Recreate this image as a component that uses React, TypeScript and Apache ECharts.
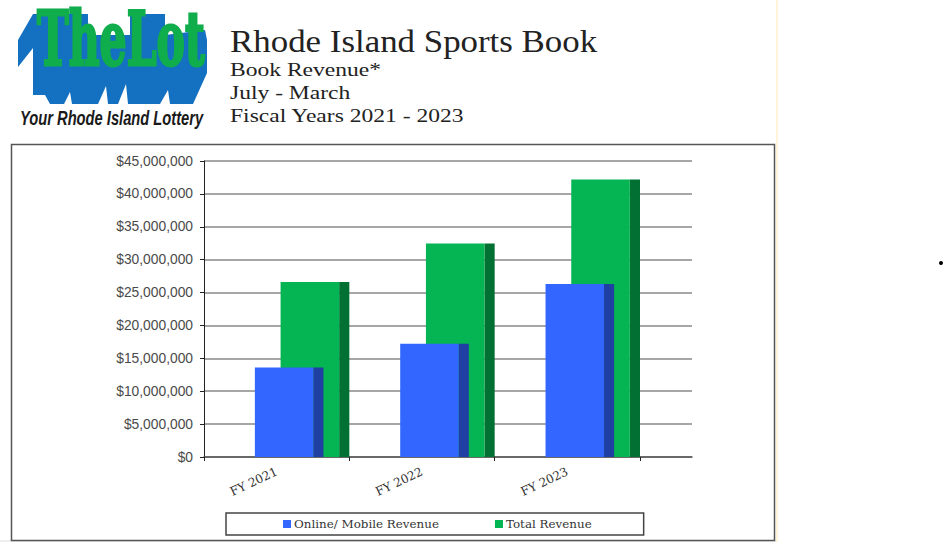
import React, { useEffect, useRef } from "react";
import * as echarts from "echarts";

const categories = ["FY 2021", "FY 2022", "FY 2023"];
const onlineRevenue = [13600000, 17200000, 26300000];
const totalRevenue = [26600000, 32450000, 42200000];
const seriesNames = ["Online/ Mobile Revenue", "Total Revenue"];
const titleLine = "Rhode Island Sports Book";
const subLines = ["Book Revenue*", "July - March", "Fiscal Years 2021 - 2023"];
const logoWord = "TheLot";
const logoTagline = "Your Rhode Island Lottery";

const shadowPoints = [
  [18, 40], [33, 14], [88, 14], [88, 35], [130, 35], [130, 14], [165, 14], [165, 35], [205, 30], [207, 40], [207, 73], [193, 104], [170, 104], [168, 90], [160, 104],
  [128, 104], [126, 84], [118, 104], [108, 104], [106, 86], [98, 104], [72, 104], [70, 92], [64, 104], [50, 104], [45, 95],
  [33, 95], [33, 48], [18, 67],
];

const barRenderer = (startFrac: number, frontFrac: number, endFrac: number, front: string, side: string) =>
  (params: any, api: any) => {
    const top = api.coord([api.value(0), api.value(1)]);
    const base = api.coord([api.value(0), 0]);
    const band = api.size([1, 0])[0];
    const left = top[0] - band / 2;
    const x0 = left + startFrac * band;
    const x1 = left + frontFrac * band;
    const x2 = left + endFrac * band;
    return {
      type: "group",
      children: [
        { type: "rect", shape: { x: x1, y: top[1], width: x2 - x1, height: base[1] - top[1] }, style: { fill: side } },
        { type: "rect", shape: { x: x0, y: top[1], width: x1 - x0, height: base[1] - top[1] }, style: { fill: front } },
      ],
    };
  };

export default function App() {
  const ref = useRef<HTMLDivElement>(null);
  useEffect(() => {
    const chart = echarts.init(ref.current!, null, { renderer: "svg" });
    const serif = "'Liberation Serif'";
    const head = (text: string, y: number, size: number, sx: number) => ({
      type: "text", x: 230, y, scaleX: sx,
      style: { text, fontFamily: serif, fontSize: size, fill: "#222", textVerticalAlign: "middle" },
    });
    chart.setOption({
      animation: false,
      backgroundColor: "#ffffff",
      grid: [
        { left: 204, top: 161, width: 436, height: 296 },
        { left: 204, top: 161, width: 488, height: 296 },
      ],
      xAxis: [
        {
          type: "category", gridIndex: 0, data: categories,
          axisLine: { show: false },
          axisTick: { show: true, length: 4, alignWithLabel: false, lineStyle: { color: "#222" } },
          axisLabel: { rotate: 25, margin: 14, fontFamily: "'DejaVu Serif'", fontSize: 12, color: "#333" },
        },
        {
          type: "category", gridIndex: 1, data: categories,
          axisLine: { show: true, lineStyle: { color: "#555", width: 1.5 } },
          axisTick: { show: false }, axisLabel: { show: false },
        },
      ],
      yAxis: [
        { type: "value", gridIndex: 0, min: 0, max: 45000000, interval: 5000000, show: false, splitLine: { show: false } },
        {
          type: "value", gridIndex: 1, min: 0, max: 45000000, interval: 5000000,
          axisLine: { show: true, lineStyle: { color: "#222" } },
          axisTick: { show: true, length: 4, lineStyle: { color: "#222" } },
          splitLine: { show: true, lineStyle: { color: "#888", width: 1.5 } },
          axisLabel: {
            margin: 11, fontFamily: "'Liberation Sans'", fontSize: 13.8, color: "#4a4a4a",
            formatter: (v: number) => "$" + v.toLocaleString("en-US"),
          },
        },
      ],
      legend: {
        left: 226, top: 513,
        padding: [5, 52, 5, 57],
        borderColor: "#444", borderWidth: 1.5,
        icon: "rect", itemWidth: 8, itemHeight: 8, itemGap: 56,
        textStyle: { fontFamily: "'DejaVu Serif'", fontSize: 11.9, color: "#333", padding: [0, 0, 0, -2] },
        data: seriesNames,
      },
      series: [
        {
          type: "custom", name: seriesNames[1], xAxisIndex: 0, yAxisIndex: 0, z: 3,
          itemStyle: { color: "#05b452" }, encode: { x: 0, y: 1 },
          data: totalRevenue.map((v, i) => [i, v]),
          renderItem: barRenderer(0.527, 0.93, 1, "#05b452", "#027032"),
        },
        {
          type: "custom", name: seriesNames[0], xAxisIndex: 0, yAxisIndex: 0, z: 4,
          itemStyle: { color: "#3366ff" }, encode: { x: 0, y: 1 },
          data: onlineRevenue.map((v, i) => [i, v]),
          renderItem: barRenderer(0.35, 0.752, 0.822, "#3366ff", "#1f3fa3"),
        },
      ],
      graphic: [
        { type: "rect", shape: { x: 0, y: 540, width: 776, height: 2 }, style: { fill: "#eeeeee" }, z: -2 },
        { type: "rect", shape: { x: 776, y: 0, width: 2, height: 542 }, style: { fill: "#fff3d8" }, z: -2 },
        { type: "rect", shape: { x: 11.5, y: 144.5, width: 763, height: 396 }, style: { fill: "none", stroke: "#555", lineWidth: 1.5 }, z: -1 },
        { type: "circle", shape: { cx: 941, cy: 263, r: 2 }, style: { fill: "#000" } },
        { type: "polygon", shape: { points: shadowPoints }, style: { fill: "#1470c0" } },
        {
          type: "text", x: 37, y: 2, scaleX: 0.575,
          style: {
            text: logoWord, fontFamily: "'DejaVu Serif'", fontWeight: "bold", fontSize: 74, fill: "#10ad4c",
            stroke: "#10ad4c", lineWidth: 3,
          },
        },
        {
          type: "text", x: 20, y: 118, scaleX: 0.735,
          style: {
            text: logoTagline, fontFamily: "'Liberation Sans'", fontStyle: "italic", fontWeight: "bold",
            fontSize: 20, fill: "#1a1a1a", textVerticalAlign: "middle",
          },
        },
        head(titleLine, 41, 32, 1.09),
        head(subLines[0], 70, 19, 1.24),
        head(subLines[1], 93, 19, 1.24),
        head(subLines[2], 116, 19, 1.24),
      ],
    });
    return () => chart.dispose();
  }, []);
  return <div ref={ref} style={{ position: "fixed", left: 0, top: 0, width: 944, height: 542 }} />;
}
